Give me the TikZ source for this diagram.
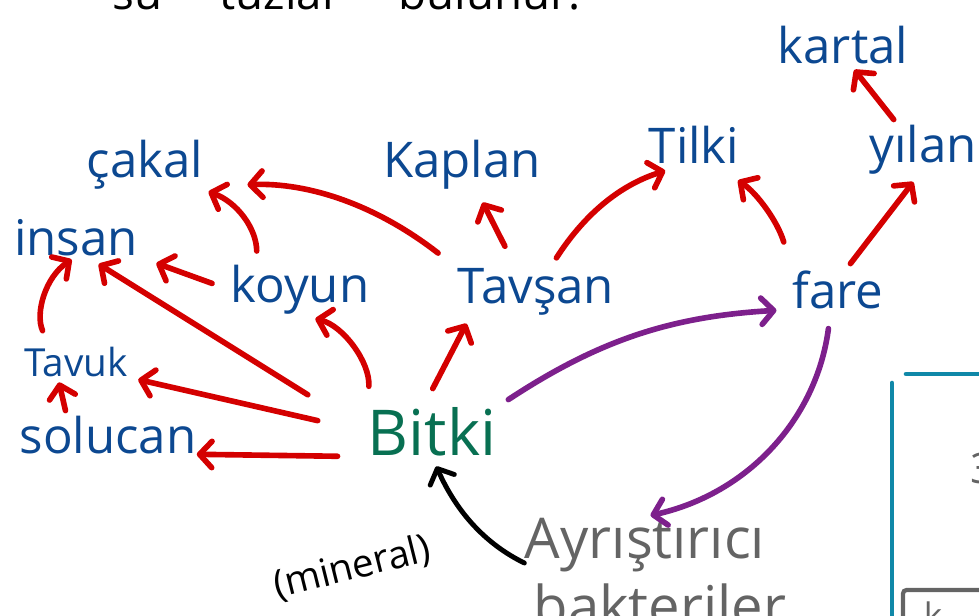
\documentclass[tikz,border=0pt]{standalone}
\usepackage{fontspec}
\setmainfont{Open Sans}
\usetikzlibrary{arrows.meta,positioning}

\definecolor{HandBlue}{RGB}{12,72,145}
\definecolor{HandRed}{RGB}{212,0,0}
\definecolor{HandPurple}{RGB}{125,32,140}
\definecolor{PlantGreen}{RGB}{8,112,82}
\definecolor{DecoGray}{RGB}{100,100,100}
\definecolor{PanelTeal}{RGB}{16,136,168}

\begin{document}
\begin{tikzpicture}
[
x=0.02cm, y=-0.02cm,
Animal/.style={text=HandBlue, inner sep=0pt, font=\fontsize{28}{28}\selectfont},
Small/.style={text=HandBlue, inner sep=0pt, font=\fontsize{22}{22}\selectfont},
Plant/.style={text=PlantGreen, inner sep=0pt, font=\fontsize{36}{36}\selectfont},
Decomposer/.style={text=DecoGray, inner sep=0pt, font=\fontsize{32}{32}\selectfont},
Note/.style={text=black, inner sep=0pt, font=\fontsize{26}{26}\selectfont},
RedArrow/.style={-{Straight Barb[length=7pt,width=15pt,round]}, draw=HandRed, line width=3.2pt, line cap=round},
PurpleArrow/.style={-{Straight Barb[length=7pt,width=15pt,round]}, draw=HandPurple, line width=3.2pt, line cap=round},
BlackArrow/.style={-{Straight Barb[length=7pt,width=15pt,round]}, draw=black, line width=2.8pt, line cap=round},
PanelLine/.style={draw=PanelTeal, line width=2.6pt, line cap=round},
GrayBox/.style={draw=DecoGray, line width=2.4pt, rounded corners=2pt},
]

\useasboundingbox (0,0) rectangle (979,615);

% top line, cut off
\node[Note, anchor=base west] (topnote) at (112,10) {su \quad tuzlar \quad bulunur.};

% consumers
\node[Animal] (cakal) at (145,165) {çakal};
\node[Animal] (insan) at (76,238) {insan};
\node[Small] (tavuk) at (76,362) {Tavuk};
\node[Animal] (solucan) at (108,435) {solucan};
\node[Animal] (koyun) at (300,290) {koyun};
\node[Animal] (kaplan) at (462,165) {Kaplan};
\node[Animal] (tavsan) at (536,292) {Tavşan};
\node[Animal] (tilki) at (694,145) {Tilki};
\node[Animal] (yilan) at (923,150) {yılan};
\node[Animal] (kartal) at (843,45) {kartal};
\node[Animal] (fare) at (838,290) {fare};

% producer, decomposers
\node[Plant] (bitki) at (432,432) {Bitki};
\node[Decomposer] (ayristirici) at (645,545) {Ayrıştırıcı};
\node[Decomposer] (bakteriler) at (660,605) {bakteriler};
\node[Note, rotate=14, font=\fontsize{22}{22}\selectfont] (mineral) at (352,568) {(mineral)};

% feeding arrows
\draw[RedArrow, shorten <=17pt] (bitki.south west) -- (solucan.south east);
\draw[RedArrow, shorten <=29pt, shorten >=6pt] (bitki.west) -- (tavuk.south east);
\draw[RedArrow, shorten <=40pt, shorten >=8pt] (bitki.west) -- (insan.-60);
\draw[RedArrow, shorten <=12pt, shorten >=9pt] (bitki.north west) to[bend right=40] (koyun.south);
\draw[RedArrow, shorten <=12pt, shorten >=5pt] (bitki.110) -- (tavsan.-160);
\draw[RedArrow, shorten <=3pt, shorten >=3pt] (solucan.155) -- (tavuk.-140);
\draw[RedArrow, shorten <=10pt, shorten >=3pt] (tavuk.150) to[bend left=40] (insan.south);
\draw[RedArrow, shorten <=11pt, shorten >=11pt] (koyun.west) -- (insan.south east);
\draw[RedArrow, shorten <=8pt, shorten >=3pt] (koyun.150) to[bend right=35] (cakal.south east);
\draw[RedArrow, shorten <=14pt, shorten >=25pt] (tavsan.north west) to[bend right=20] (cakal.-20);
\draw[RedArrow, shorten <=14pt, shorten >=8pt] (tavsan.130) -- (kaplan.-60);
\draw[RedArrow, shorten <=7pt, shorten >=13pt] (tavsan.60) to[bend left=20] (tilki.-110);
\draw[RedArrow, shorten <=17pt, shorten >=17pt] (fare.north west) to[bend right=20] (tilki.-45);
\draw[RedArrow, shorten <=5pt, shorten >=5pt] (fare.70) -- (yilan.-100);
\draw[RedArrow, shorten <=4pt, shorten >=4pt] (yilan.135) -- (kartal.-70);

% cycle arrows
\draw[PurpleArrow, shorten <=8pt, shorten >=9pt] (bitki.north east) to[bend left=15] (fare.south west);
\draw[PurpleArrow, shorten <=11pt, shorten >=6pt] (fare.-110) to[bend left=35] (ayristirici.100);
\draw[BlackArrow, shorten <=12pt, shorten >=6pt] (ayristirici.195) to[bend left=20] (bitki.south);

% panel at the right edge, cut off
\draw[PanelLine] (892,383) -- (892,625);
\draw[PanelLine] (906,374) -- (990,374);
\node[text=DecoGray, font=\fontsize{24}{24}\selectfont] (panelmark) at (983,468) {3};
\draw[GrayBox] (903,630) -- (903,590) -- (990,590);
\node[text=DecoGray, font=\fontsize{20}{20}\selectfont] (boxmark) at (933,615) {k};

\end{tikzpicture}
\end{document}
